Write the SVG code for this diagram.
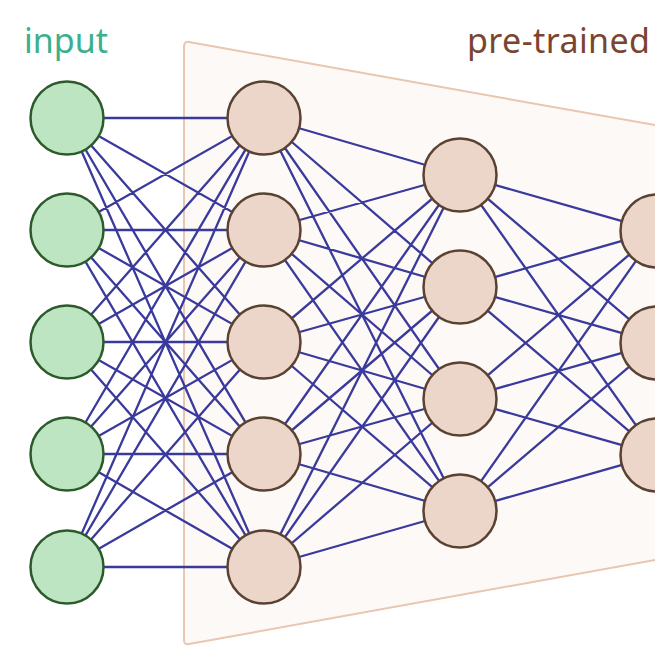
<svg xmlns="http://www.w3.org/2000/svg" width="655" height="655" viewBox="0 0 655 655">
<style>
.bg{fill:#fdf9f7;stroke:#e9c6b0;stroke-width:2;stroke-linejoin:round}
.edge{stroke:#3a3a9c;stroke-width:2.3;fill:none}
.in{fill:#bde5c2;stroke:#2d5a2d;stroke-width:2.5}
.pt{fill:#ecd6c9;stroke:#5a4232;stroke-width:2.5}
.lbl{font-family:"Noto Sans","Open Sans",sans-serif;font-size:34px}
</style>
<rect width="655" height="655" fill="#ffffff"/>
<path class="bg" d="M189,42 L660,126 L660,559 L189,644 Q184,645 184,640 L184,47 Q184,41 189,42 Z"/>
<text class="lbl" x="24" y="53" fill="#3ab08c">input</text>
<text class="lbl" x="467" y="53" fill="#7a4530" textLength="183">pre-trained</text>
<g id="connectors">
<path class="edge" d="M67,118L264,118M67,118L264,230M67,118L264,342M67,118L264,454M67,118L264,567
M67,230L264,118M67,230L264,230M67,230L264,342M67,230L264,454M67,230L264,567
M67,342L264,118M67,342L264,230M67,342L264,342M67,342L264,454M67,342L264,567
M67,454L264,118M67,454L264,230M67,454L264,342M67,454L264,454M67,454L264,567
M67,567L264,118M67,567L264,230M67,567L264,342M67,567L264,454M67,567L264,567
M264,118L460,175M264,118L460,287M264,118L460,399M264,118L460,511
M264,230L460,175M264,230L460,287M264,230L460,399M264,230L460,511
M264,342L460,175M264,342L460,287M264,342L460,399M264,342L460,511
M264,454L460,175M264,454L460,287M264,454L460,399M264,454L460,511
M264,567L460,175M264,567L460,287M264,567L460,399M264,567L460,511
M460,175L657,231M460,175L657,343M460,175L657,455
M460,287L657,231M460,287L657,343M460,287L657,455
M460,399L657,231M460,399L657,343M460,399L657,455
M460,511L657,231M460,511L657,343M460,511L657,455"/>
</g>
<g id="input1"><circle class="in" cx="67" cy="118" r="36.5"/></g>
<g id="input2"><circle class="in" cx="67" cy="230" r="36.5"/></g>
<g id="input3"><circle class="in" cx="67" cy="342" r="36.5"/></g>
<g id="input4"><circle class="in" cx="67" cy="454" r="36.5"/></g>
<g id="input5"><circle class="in" cx="67" cy="567" r="36.5"/></g>
<g id="h1_1"><circle class="pt" cx="264" cy="118" r="36.5"/></g>
<g id="h1_2"><circle class="pt" cx="264" cy="230" r="36.5"/></g>
<g id="h1_3"><circle class="pt" cx="264" cy="342" r="36.5"/></g>
<g id="h1_4"><circle class="pt" cx="264" cy="454" r="36.5"/></g>
<g id="h1_5"><circle class="pt" cx="264" cy="567" r="36.5"/></g>
<g id="h2_1"><circle class="pt" cx="460" cy="175" r="36.5"/></g>
<g id="h2_2"><circle class="pt" cx="460" cy="287" r="36.5"/></g>
<g id="h2_3"><circle class="pt" cx="460" cy="399" r="36.5"/></g>
<g id="h2_4"><circle class="pt" cx="460" cy="511" r="36.5"/></g>
<g id="h3_1"><circle class="pt" cx="657" cy="231" r="36.5"/></g>
<g id="h3_2"><circle class="pt" cx="657" cy="343" r="36.5"/></g>
<g id="h3_3"><circle class="pt" cx="657" cy="455" r="36.5"/></g>
</svg>
